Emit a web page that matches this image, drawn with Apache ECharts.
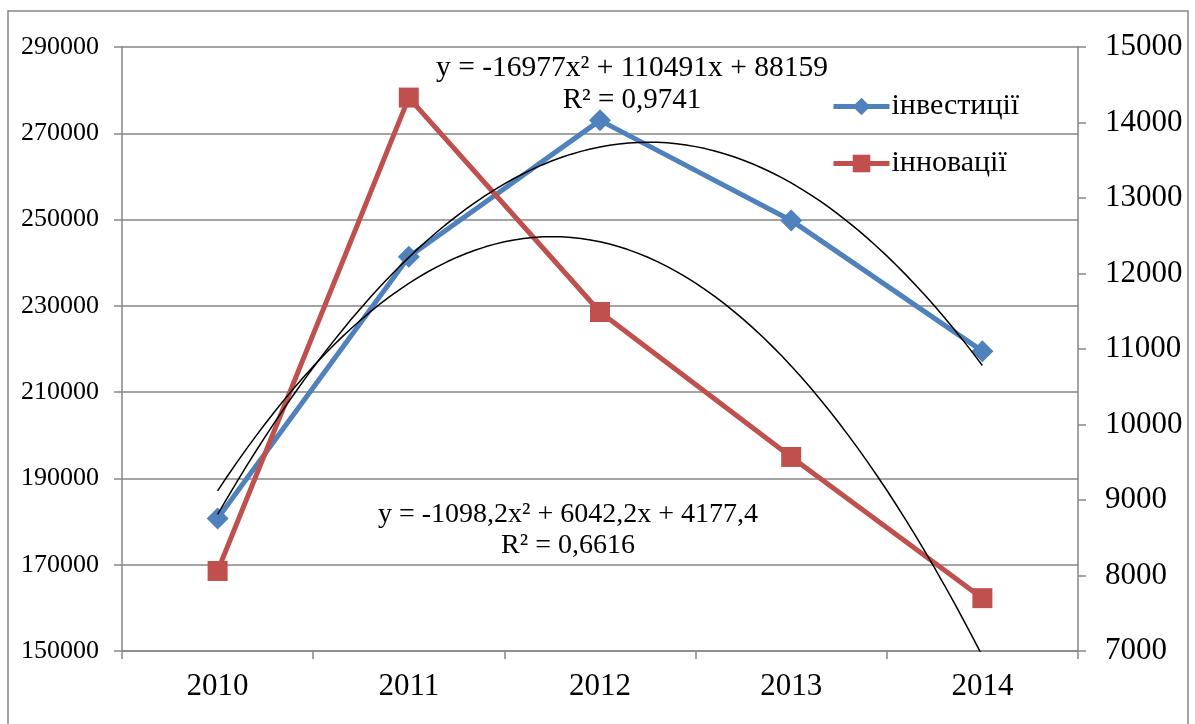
<!DOCTYPE html>
<html>
<head>
<meta charset="utf-8">
<script src="https://cdn.jsdelivr.net/npm/echarts@6/dist/echarts.min.js"></script>
<style>html,body{margin:0;padding:0;background:#fff;}#c{width:1195px;height:724px;}</style>
</head>
<body>
<div id="c"></div>
<script>
const categories = ['2010', '2011', '2012', '2013', '2014'];
const investments = [180700, 241400, 273000, 249800, 219500];
const innovations = [8060, 14330, 11490, 9570, 7700];
const leftTicks = [150000, 170000, 190000, 210000, 230000, 250000, 270000, 290000];
const rightTicks = [7000, 8000, 9000, 10000, 11000, 12000, 13000, 14000, 15000];
// displayed polynomial trendline coefficients (a, b, c) for y = a x^2 + b x + c, x = 1..5
const trendInvCoef = [-16977, 110491, 88159];
const trendInnCoef = [-1098.2, 6042.2, 4177.4];
const eqInv = ['y = -16977x² + 110491x + 88159', 'R² = 0,9741'];
const eqInn = ['y = -1098,2x² + 6042,2x + 4177,4', 'R² = 0,6616'];

function trendPoints(coef) {
  const pts = [];
  for (let i = 0; i <= 80; i++) {
    const x = 1 + i * 0.05;
    pts.push([x, coef[0] * x * x + coef[1] * x + coef[2]]);
  }
  return pts;
}

const FONT = 'Liberation Serif';
const GRAY = '#868686';
const plain = v => String(v);
const chart = echarts.init(document.getElementById('c'));
chart.setOption({
  animation: false,
  backgroundColor: '#fff',
  textStyle: { fontFamily: FONT, color: '#000' },
  grid: { left: 122, right: 117, top: 47, bottom: 73, containLabel: false },
  legend: {
    orient: 'vertical', left: 826, top: 86, itemGap: 26,
    itemWidth: 56, itemHeight: 22,
    lineStyle: { width: 5 },
    textStyle: { fontFamily: FONT, fontSize: 30, color: '#000', lineHeight: 31, padding: [0, 0, 0, -3] },
    data: ['інвестиції', 'інновації']
  },
  xAxis: [
    {
      type: 'category', data: categories, boundaryGap: true,
      axisLine: { lineStyle: { color: GRAY, width: 1.5 } },
      axisTick: { show: true, length: 8, lineStyle: { color: GRAY, width: 1.5 } },
      axisLabel: { fontFamily: FONT, fontSize: 31, color: '#000', margin: 20 },
      splitLine: { show: false }
    },
    { type: 'value', min: 0.5, max: 5.5, show: false, position: 'bottom' }
  ],
  yAxis: [
    {
      type: 'value', min: leftTicks[0], max: leftTicks[leftTicks.length - 1], interval: 20000,
      axisLine: { show: true, lineStyle: { color: GRAY, width: 1.5 } },
      axisTick: { show: true, length: 8, lineStyle: { color: GRAY, width: 1.5 } },
      axisLabel: { fontFamily: FONT, fontSize: 26, color: '#000', margin: 23, formatter: plain },
      splitLine: { show: true, lineStyle: { color: GRAY, width: 1.5 } }
    },
    {
      type: 'value', min: rightTicks[0], max: rightTicks[rightTicks.length - 1], interval: 1000,
      position: 'right',
      axisLine: { show: true, lineStyle: { color: GRAY, width: 1.5 } },
      axisTick: { show: true, length: 8, lineStyle: { color: GRAY, width: 1.5 } },
      axisLabel: { fontFamily: FONT, fontSize: 31, color: '#000', margin: 27, formatter: plain },
      splitLine: { show: false }
    }
  ],
  series: [
    {
      name: 'інвестиції', type: 'line', data: investments, xAxisIndex: 0, yAxisIndex: 0,
      symbol: 'diamond', symbolSize: 22,
      lineStyle: { color: '#4F81BD', width: 5 }, itemStyle: { color: '#4F81BD' }, z: 3
    },
    {
      name: 'інновації', type: 'line', data: innovations, xAxisIndex: 0, yAxisIndex: 1,
      symbol: 'rect', symbolSize: 20,
      lineStyle: { color: '#C0504D', width: 5 }, itemStyle: { color: '#C0504D' }, z: 3
    },
    {
      name: 'trendInv', type: 'line', data: trendPoints(trendInvCoef), xAxisIndex: 1, yAxisIndex: 0,
      showSymbol: false, symbol: 'none', lineStyle: { color: '#000', width: 1.5 }, z: 4, silent: true
    },
    {
      name: 'trendInn', type: 'line', data: trendPoints(trendInnCoef), xAxisIndex: 1, yAxisIndex: 1,
      showSymbol: false, symbol: 'none', lineStyle: { color: '#000', width: 1.5 }, z: 4, silent: true
    }
  ],
  graphic: [
    { type: 'rect', shape: { x: 8, y: 11, width: 1180, height: 760 }, style: { fill: 'none', stroke: GRAY, lineWidth: 1.5 }, z: -1, silent: true },
    { type: 'text', x: 632, y: 68, style: { text: eqInv[0], font: '29.5px "Liberation Serif"', fill: '#000', align: 'center', verticalAlign: 'middle' }, z: 10 },
    { type: 'text', x: 632, y: 100, style: { text: eqInv[1], font: '29px "Liberation Serif"', fill: '#000', align: 'center', verticalAlign: 'middle' }, z: 10 },
    { type: 'text', x: 568, y: 515, style: { text: eqInn[0], font: '28px "Liberation Serif"', fill: '#000', align: 'center', verticalAlign: 'middle' }, z: 10 },
    { type: 'text', x: 568, y: 546, style: { text: eqInn[1], font: '28px "Liberation Serif"', fill: '#000', align: 'center', verticalAlign: 'middle' }, z: 10 }
  ]
});
</script>
</body>
</html>
